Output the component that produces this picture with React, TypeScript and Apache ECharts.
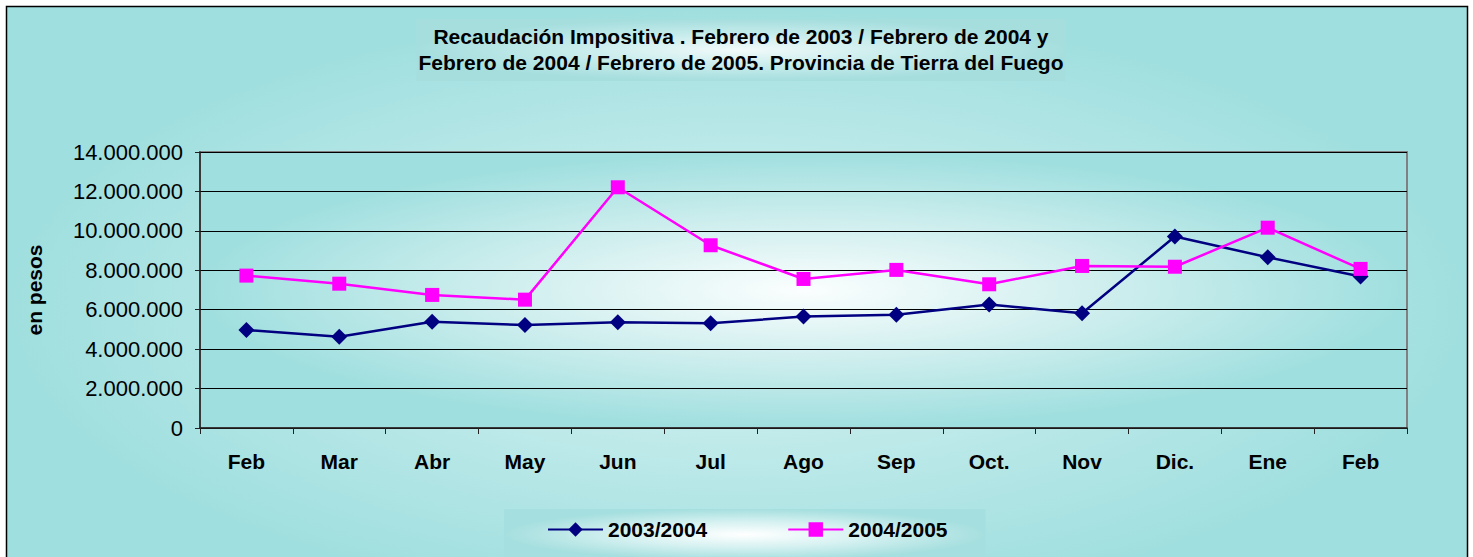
import React, { useEffect, useRef } from "react";
import * as echarts from "echarts";

const months = ["Feb", "Mar", "Abr", "May", "Jun", "Jul", "Ago", "Sep", "Oct.", "Nov", "Dic.", "Ene", "Feb"];
const serie2003 = [4970000, 4630000, 5390000, 5220000, 5360000, 5310000, 5650000, 5750000, 6270000, 5820000, 9710000, 8660000, 7680000];
const serie2004 = [7730000, 7320000, 6750000, 6510000, 12210000, 9270000, 7560000, 8020000, 7290000, 8220000, 8180000, 10160000, 8070000];
const seriesNames = ["2003/2004", "2004/2005"];
const titleLines = [
  "Recaudación Impositiva . Febrero de 2003 / Febrero de 2004 y",
  "Febrero de 2004 / Febrero de 2005. Provincia de Tierra del Fuego",
];
const yAxisName = "en pesos";

const FONT = "'Liberation Sans', Arial, sans-serif";

const fmt = (v: number) => String(v).replace(/\B(?=(\d{3})+(?!\d))/g, ".");

const radial = (inner: string, outer: string, mid?: string) => ({
  type: "radial",
  x: 0.5,
  y: 0.5,
  r: 0.5,
  colorStops: mid
    ? [
        { offset: 0, color: inner },
        { offset: 0.5, color: mid },
        { offset: 1, color: outer },
      ]
    : [
        { offset: 0, color: inner },
        { offset: 1, color: outer },
      ],
});

export default function App() {
  const ref = useRef<HTMLDivElement>(null);
  useEffect(() => {
    if (!ref.current) return;
    const chart = echarts.init(ref.current, undefined, { renderer: "svg" });
    chart.setOption({
      animation: false,
      backgroundColor: "#ffffff",
      title: {
        text: titleLines.join("\n"),
        left: 739,
        textAlign: "center",
        top: 19,
        padding: [4, 2, 6, 2],
        backgroundColor: radial("#f2fafa", "#a6dede", "#c8ecec"),
        textStyle: {
          fontFamily: FONT,
          fontSize: 21,
          fontWeight: "bold",
          color: "#000",
          lineHeight: 26,
        },
      },
      graphic: [
        {
          type: "rect",
          z: -10,
          shape: { x: 6.5, y: 6.5, width: 1461, height: 600 },
          style: {
            fill: radial("#d9f2f2", "#a0dfdf", "#bde9e9"),
            stroke: "#000",
            lineWidth: 1.5,
          },
        },
      ],
      legend: {
        left: 504,
        top: 509,
        padding: [10, 38, 20, 43],
        itemGap: 80,
        itemWidth: 55,
        itemHeight: 18,
        backgroundColor: radial("#ffffff", "#a6dfdf", "#d6f1f1"),
        textStyle: { fontFamily: FONT, fontSize: 21, fontWeight: "bold", color: "#000" },
        data: seriesNames,
      },
      grid: {
        left: 200,
        top: 152,
        right: 66,
        bottom: 129,
        show: true,
        backgroundColor: radial("#fbfefe", "#a0dfdf", "#cfeeee"),
        borderColor: "#808080",
        borderWidth: 2,
      },
      xAxis: {
        type: "category",
        data: months,
        boundaryGap: true,
        axisLine: { lineStyle: { color: "#222", width: 1.5 } },
        axisTick: { show: true, length: 6, lineStyle: { color: "#222" } },
        axisLabel: {
          fontFamily: FONT,
          fontSize: 21,
          fontWeight: "bold",
          color: "#000",
          margin: 23,
          interval: 0,
        },
      },
      yAxis: {
        type: "value",
        min: 0,
        max: 14000000,
        interval: 2000000,
        name: yAxisName,
        nameLocation: "middle",
        nameRotate: 90,
        nameGap: 155,
        nameTextStyle: { fontFamily: FONT, fontSize: 21, fontWeight: "bold", color: "#000" },
        axisLine: { show: true, lineStyle: { color: "#222", width: 1.5 } },
        axisTick: { show: true, length: 5, lineStyle: { color: "#222" } },
        splitLine: { lineStyle: { color: "#000", width: 1 } },
        axisLabel: {
          fontFamily: FONT,
          fontSize: 22,
          color: "#000",
          margin: 17,
          formatter: (v: number) => fmt(v),
        },
      },
      series: [
        {
          name: seriesNames[0],
          type: "line",
          data: serie2003,
          symbol: "diamond",
          symbolSize: 16,
          itemStyle: { color: "#000080" },
          lineStyle: { color: "#000080", width: 2.5 },
        },
        {
          name: seriesNames[1],
          type: "line",
          data: serie2004,
          symbol: "rect",
          symbolSize: 14,
          itemStyle: { color: "#ff00ff" },
          lineStyle: { color: "#ff00ff", width: 2.5 },
        },
      ],
    });
    return () => chart.dispose();
  }, []);
  return (
    <div
      ref={ref}
      style={{ position: "fixed", left: 0, top: 0, width: 1473, height: 557 }}
    />
  );
}
